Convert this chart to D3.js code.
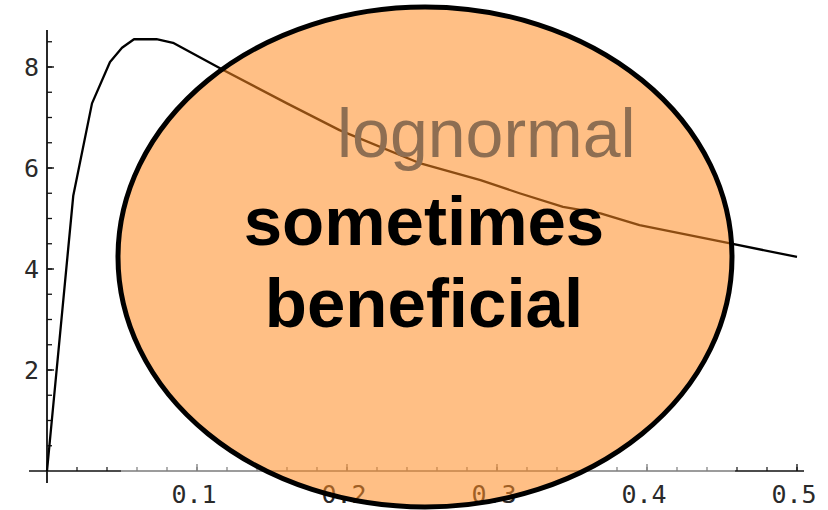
<!DOCTYPE html>
<html>
<head>
<meta charset="utf-8">
<script src="https://cdn.jsdelivr.net/npm/d3@7/dist/d3.min.js"></script>
<style>
  html, body { margin: 0; padding: 0; background: #fff; }
  svg { display: block; }
</style>
</head>
<body>
<svg id="chart" width="828" height="510"></svg>
<script>
// ---- data ----
const curveX = [0, 0.0175, 0.030, 0.042, 0.050, 0.058, 0.073, 0.084, 0.1175, 0.160, 0.195, 0.249, 0.289, 0.315, 0.344, 0.369, 0.395, 0.453, 0.500];
const curveY = [0, 5.45, 7.28, 8.10, 8.38, 8.55, 8.55, 8.48, 7.94, 7.28, 6.75, 6.09, 5.76, 5.50, 5.23, 5.10, 4.87, 4.52, 4.24];
const xTickValues = [0.1, 0.2, 0.3, 0.4, 0.5];
const xTickLabels = ["0.1", "0.2", "0.3", "0.4", "0.5"];
const yTickValues = [2, 4, 6, 8];
const yTickLabels = ["2", "4", "6", "8"];
const seriesLabel = "lognormal";
const calloutLines = ["sometimes", "beneficial"];

// ---- layout ----
const svg = d3.select("#chart");
const x = d3.scaleLinear().domain([0, 0.5]).range([47, 797]);
const y = d3.scaleLinear().domain([0, 8]).range([471, 67]);

const axisColor = "#111";
const tickFont = "'DejaVu Sans Mono', 'Liberation Mono', monospace";

// x axis
const xAxisG = svg.append("g").attr("transform", `translate(0,${y(0)})`);
xAxisG.append("line").attr("x1", 29).attr("x2", 804).attr("y1", 0).attr("y2", 0)
  .attr("stroke", axisColor).attr("stroke-width", 1.6);
const xMinor = d3.range(1, 26).map(i => i * 0.02);
xAxisG.selectAll("line.minor").data(xMinor).join("line")
  .attr("class", "minor")
  .attr("x1", d => x(d)).attr("x2", d => x(d))
  .attr("y1", 0).attr("y2", -4)
  .attr("stroke", axisColor).attr("stroke-width", 1.2);
xAxisG.selectAll("line.major").data(xTickValues).join("line")
  .attr("class", "major")
  .attr("x1", d => x(d)).attr("x2", d => x(d))
  .attr("y1", 0).attr("y2", -7)
  .attr("stroke", axisColor).attr("stroke-width", 1.3);
xAxisG.selectAll("text").data(xTickValues).join("text")
  .attr("x", d => x(d) - 3).attr("y", 32)
  .attr("text-anchor", "middle")
  .attr("font-family", tickFont).attr("font-size", 25)
  .attr("fill", "#2a2a2a")
  .text((d, i) => xTickLabels[i]);

// y axis
const yAxisG = svg.append("g").attr("transform", `translate(${x(0)},0)`);
yAxisG.append("line").attr("x1", 0).attr("x2", 0).attr("y1", 30).attr("y2", 483)
  .attr("stroke", axisColor).attr("stroke-width", 1.8);
const yMinor = d3.range(1, 18).map(i => i * 0.5);
yAxisG.selectAll("line.minor").data(yMinor).join("line")
  .attr("class", "minor")
  .attr("x1", 0).attr("x2", 5)
  .attr("y1", d => y(d)).attr("y2", d => y(d))
  .attr("stroke", axisColor).attr("stroke-width", 1.3);
yAxisG.selectAll("line.major").data(yTickValues).join("line")
  .attr("class", "major")
  .attr("x1", 0).attr("x2", 7)
  .attr("y1", d => y(d)).attr("y2", d => y(d))
  .attr("stroke", axisColor).attr("stroke-width", 1.4);
yAxisG.selectAll("text").data(yTickValues).join("text")
  .attr("x", -8).attr("y", d => y(d))
  .attr("dy", "0.36em")
  .attr("text-anchor", "end")
  .attr("font-family", tickFont).attr("font-size", 25)
  .attr("fill", "#2a2a2a")
  .text((d, i) => yTickLabels[i]);

// curve
const pts = curveX.map((d, i) => [d, curveY[i]]);
svg.append("path")
  .datum(pts)
  .attr("d", d3.line().x(d => x(d[0])).y(d => y(d[1])))
  .attr("fill", "none")
  .attr("stroke", "#000")
  .attr("stroke-width", 2.3)
  .attr("stroke-linejoin", "round");

// faint pasted-image strip over the axis
svg.append("rect")
  .attr("x", 121).attr("y", 452).attr("width", 614).attr("height", 26)
  .attr("fill", "#fff").attr("opacity", 0.45);

// translucent ellipse
svg.append("ellipse")
  .attr("cx", 425).attr("cy", 257).attr("rx", 307).attr("ry", 250)
  .attr("fill", "rgb(255,138,32)").attr("fill-opacity", 0.55)
  .attr("stroke", "#000").attr("stroke-width", 5);

// series label
svg.append("text")
  .attr("x", 337).attr("y", 157)
  .attr("font-family", "'Liberation Sans', Arial, sans-serif")
  .attr("font-size", 68)
  .attr("fill", "#8e6e52")
  .text(seriesLabel);

// callout text
svg.append("g").selectAll("text").data(calloutLines).join("text")
  .attr("x", 424)
  .attr("y", (d, i) => 245 + i * 82)
  .attr("text-anchor", "middle")
  .attr("font-family", "'Liberation Sans', Arial, sans-serif")
  .attr("font-weight", "bold")
  .attr("font-size", 69)
  .attr("fill", "#000")
  .text(d => d);
</script>
</body>
</html>
